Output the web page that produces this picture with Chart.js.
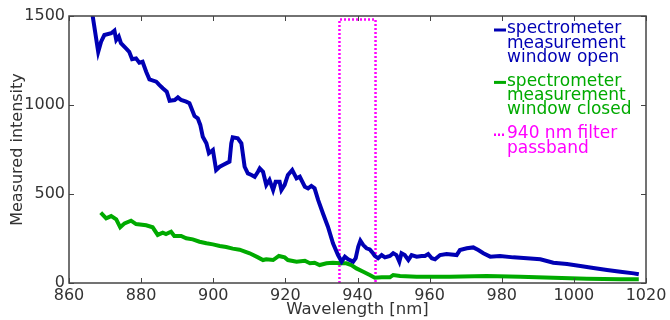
<!DOCTYPE html>
<html>
<head>
<meta charset="utf-8">
<script src="https://cdn.jsdelivr.net/npm/chart.js@4.4.1/dist/chart.umd.min.js"></script>
<style>
  body { margin: 0; background: #fff; }
  #wrap { width: 670px; height: 320px; }
</style>
</head>
<body>
<div id="wrap"><canvas id="myChart" width="670" height="320"></canvas></div>
<script>
// wavelength [nm] / measured intensity
const openX = [866.0, 866.6, 868.1, 868.9, 869.8, 871.7, 872.6, 873.1, 873.8, 874.4, 875.8, 876.7, 877.5, 878.6, 879.5, 880.4, 881.4, 882.3, 884.2, 885.1, 886.0, 887.1, 887.9, 889.3, 890.2, 891.1, 892.5, 893.4, 894.8, 895.7, 896.4, 897.1, 898.1, 898.8, 899.9, 900.8, 901.8, 902.7, 904.5, 905.0, 905.4, 906.8, 907.8, 908.7, 909.6, 910.6, 911.5, 912.4, 912.9, 913.8, 914.7, 915.6, 916.6, 917.3, 918.4, 918.9, 919.8, 920.7, 921.9, 923.1, 924.0, 925.4, 926.3, 927.2, 928.1, 929.1, 930.4, 931.8, 933.2, 934.6, 935.6, 936.5, 937.4, 938.8, 939.5, 940.2, 940.8, 941.6, 942.5, 943.4, 944.3, 944.8, 945.7, 946.7, 947.6, 949.0, 949.9, 950.8, 951.6, 952.2, 953.1, 954.1, 955.0, 956.4, 957.8, 958.7, 959.6, 960.6, 961.5, 962.9, 964.7, 967.5, 968.4, 970.3, 972.1, 973.5, 974.9, 976.8, 979.5, 983.2, 987.0, 990.7, 994.3, 998.1, 1001.8, 1005.4, 1009.2, 1012.9, 1016.6, 1018.0];
const openY = [1650, 1496, 1299, 1356, 1393, 1403, 1418, 1365, 1384, 1347, 1318, 1299, 1257, 1262, 1238, 1243, 1187, 1144, 1131, 1112, 1094, 1075, 1024, 1028, 1043, 1028, 1019, 1010, 938, 925, 888, 822, 785, 729, 747, 635, 653, 663, 682, 785, 818, 813, 785, 653, 616, 607, 597, 625, 644, 625, 551, 579, 522, 569, 569, 522, 551, 607, 635, 588, 597, 541, 532, 545, 532, 466, 392, 316, 223, 157, 120, 148, 133, 120, 139, 204, 238, 213, 195, 189, 167, 152, 139, 157, 144, 152, 167, 157, 120, 167, 157, 129, 157, 148, 152, 152, 163, 139, 133, 157, 163, 157, 185, 195, 200, 185, 167, 148, 152, 144, 139, 133, 114, 107, 96, 84, 73, 63, 54, 49];

const closedX = [868.8, 870.3, 871.7, 873.1, 874.2, 875.4, 877.2, 878.6, 881.4, 883.2, 884.6, 886.0, 886.9, 888.3, 889.2, 891.1, 892.5, 894.3, 896.2, 898.1, 899.9, 901.8, 903.6, 905.4, 907.3, 910.1, 912.4, 913.8, 914.7, 916.6, 918.2, 919.8, 920.7, 923.1, 925.4, 926.8, 928.1, 929.5, 931.4, 933.2, 935.1, 936.9, 938.3, 939.7, 941.6, 943.4, 944.8, 946.7, 949.0, 949.9, 951.8, 956.4, 961.0, 965.6, 975.8, 985.1, 994.3, 1003.6, 1012.9, 1018.0];
const closedY = [395, 363, 376, 358, 313, 335, 350, 331, 324, 313, 270, 283, 275, 288, 264, 264, 251, 245, 232, 223, 217, 208, 202, 193, 187, 167, 144, 129, 133, 129, 152, 144, 129, 120, 125, 111, 114, 101, 111, 114, 111, 111, 101, 82, 63, 45, 30, 32, 32, 45, 39, 35, 35, 35, 39, 35, 30, 24, 21, 21];

const passbandX = [935, 935, 945, 945];
const passbandY = [0, 1480, 1480, 0];

const xTicks = [860, 880, 900, 920, 940, 960, 980, 1000, 1020];
const yTicks = [0, 500, 1000, 1500];

const legendItems = [
  { lines: ['spectrometer', 'measurement', 'window open'], color: '#0000b4', dash: false },
  { lines: ['spectrometer', 'measurement', 'window closed'], color: '#00aa00', dash: false },
  { lines: ['940 nm filter', 'passband'], color: '#ff00ff', dash: true }
];

const toPoints = (xs, ys) => xs.map((x, i) => ({ x: x, y: ys[i] }));

const FONT = "'DejaVu Sans', 'Liberation Sans', sans-serif";
const AXIS = '#444444';

// matplotlib-like frame with inward ticks + text legend
const framePlugin = {
  id: 'frame',
  afterDraw(chart) {
    const { ctx, chartArea: a, scales } = chart;
    ctx.save();
    ctx.strokeStyle = AXIS;
    ctx.lineWidth = 1;
    xTicks.forEach(v => {
      const px = Math.round(scales.x.getPixelForValue(v)) + 0.5;
      ctx.beginPath();
      ctx.moveTo(px, a.bottom); ctx.lineTo(px, a.bottom - 5);
      ctx.moveTo(px, a.top); ctx.lineTo(px, a.top + 5);
      ctx.stroke();
    });
    yTicks.forEach(v => {
      const py = Math.round(scales.y.getPixelForValue(v)) + 0.5;
      ctx.beginPath();
      ctx.moveTo(a.left, py); ctx.lineTo(a.left + 5, py);
      ctx.moveTo(a.right, py); ctx.lineTo(a.right - 5, py);
      ctx.stroke();
    });
    ctx.lineWidth = 1.5;
    ctx.strokeRect(a.left, a.top, a.right - a.left, a.bottom - a.top);

    // legend
    ctx.font = '17px ' + FONT;
    ctx.textBaseline = 'middle';
    ctx.textAlign = 'left';
    let y = 29;
    legendItems.forEach(item => {
      ctx.strokeStyle = item.color;
      ctx.fillStyle = item.color;
      ctx.lineWidth = item.dash ? 2.5 : 3;
      ctx.setLineDash(item.dash ? [2, 2] : []);
      ctx.beginPath();
      ctx.moveTo(494, y + 1); ctx.lineTo(506, y + 1);
      ctx.stroke();
      ctx.setLineDash([]);
      item.lines.forEach((t, i) => ctx.fillText(t, 507, y + i * 14.3));
      y += item.lines.length * 14.3 + 9.5;
    });
    ctx.restore();
  }
};

const ctx = document.getElementById('myChart');

new Chart(ctx, {
  type: 'line',
  data: {
    datasets: [
      {
        label: 'spectrometer measurement window open',
        data: toPoints(openX, openY),
        borderColor: '#0000b4',
        borderWidth: 4,
        pointRadius: 0,
        tension: 0
      },
      {
        label: 'spectrometer measurement window closed',
        data: toPoints(closedX, closedY),
        borderColor: '#00aa00',
        borderWidth: 4,
        pointRadius: 0,
        tension: 0
      },
      {
        label: '940 nm filter passband',
        data: toPoints(passbandX, passbandY),
        borderColor: '#ff00ff',
        borderWidth: 2.5,
        borderDash: [2, 2],
        pointRadius: 0,
        tension: 0
      }
    ]
  },
  options: {
    responsive: false,
    animation: false,
    layout: { padding: { left: 0, top: 16, right: 24, bottom: 0 } },
    plugins: {
      legend: { display: false },
      tooltip: { enabled: false }
    },
    scales: {
      x: {
        type: 'linear',
        min: 860,
        max: 1020,
        afterFit: s => { s.height = 37; },
        afterBuildTicks: s => { s.ticks = xTicks.map(v => ({ value: v })); },
        grid: { display: false, drawTicks: false },
        border: { display: false },
        ticks: {
          color: '#333', padding: 3, maxRotation: 0,
          font: { family: FONT, size: 16 },
          callback: v => String(v)
        },
        title: {
          display: true,
          text: 'Wavelength [nm]',
          color: '#333',
          padding: { top: 0, bottom: 0 },
          font: { family: FONT, size: 16.5, lineHeight: 1.2 }
        }
      },
      y: {
        type: 'linear',
        min: 0,
        max: 1500,
        afterFit: s => { s.width = 69; },
        afterBuildTicks: s => { s.ticks = yTicks.map(v => ({ value: v })); },
        grid: { display: false, drawTicks: false },
        border: { display: false },
        ticks: {
          color: '#333', padding: 4,
          font: { family: FONT, size: 16 },
          callback: v => String(v)
        },
        title: {
          display: true,
          text: 'Measured intensity',
          color: '#333',
          padding: { top: 8, bottom: 0 },
          font: { family: FONT, size: 16, lineHeight: 1.2 }
        }
      }
    }
  },
  plugins: [framePlugin]
});
</script>
</body>
</html>
